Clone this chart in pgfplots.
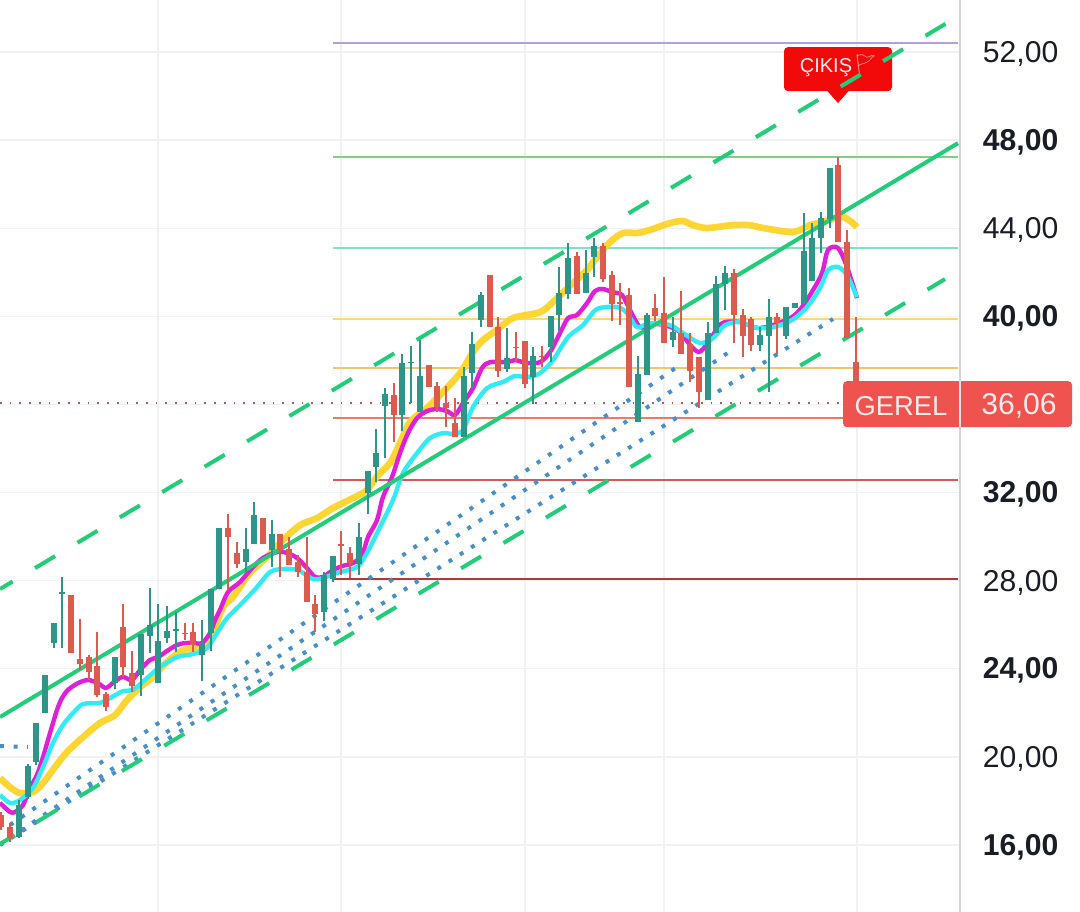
\documentclass[border=0pt]{standalone}
\usepackage{pgfplots}
\usepackage{pgfplotstable}
\usepackage{fontspec}
\pgfplotsset{compat=1.18}
\setmainfont{Liberation Sans}
\newfontfamily\emojifont{Noto Emoji}
\definecolor{cgreen}{HTML}{2E9688}
\definecolor{cred}{HTML}{DC5A4E}
\definecolor{trend}{HTML}{22CC78}
\definecolor{dotblue}{HTML}{4A90C8}
\definecolor{magline}{HTML}{E01FD8}
\definecolor{cyanline}{HTML}{33EBF2}
\definecolor{yelline}{HTML}{FDD633}
\definecolor{gridc}{HTML}{F1F2F4}
\definecolor{labelred}{HTML}{EF5350}
\definecolor{txt}{HTML}{1A1D26}
\definecolor{lvA}{RGB}{179,160,219}
\definecolor{lvB}{RGB}{130,205,135}
\definecolor{lvC}{RGB}{128,226,195}
\definecolor{lvD}{RGB}{255,217,102}
\definecolor{lvE}{RGB}{240,198,116}
\definecolor{lvF}{RGB}{229,127,95}
\definecolor{lvG}{RGB}{217,89,91}
\definecolor{lvH}{RGB}{176,58,58}
\definecolor{curr}{RGB}{176,90,90}
\definecolor{exitred}{RGB}{242,10,10}
\pgfplotstableread{
x hi lo top bot
19 18.04 16.32 17.82 16.36
28 19.68 18.09 19.59 18.18
36 21.54 19.63 21.54 19.77
45 23.72 21.99 23.72 21.99
54 26.08 24.94 26.08 25.17
62 28.17 24.94 27.48 27.39
115 24.53 23.08 24.53 23.35
141 25.58 22.76 25.58 23.72
150 27.67 24.72 25.99 25.49
158 26.94 23.35 25.26 23.35
167 26.85 25.17 25.71 25.40
176 26.58 24.76 25.80 25.71
202 26.21 23.44 25.17 24.62
211 27.62 24.81 27.62 25.62
219 30.39 27.62 30.39 27.62
246 30.39 28.39 29.44 28.85
254 31.57 29.66 30.98 29.66
272 30.75 28.62 30.12 29.39
324 28.39 26.17 28.26 26.58
333 29.12 27.94 29.12 28.07
359 30.62 28.26 29.98 28.76
368 32.98 31.03 32.98 31.98
376 34.88 32.48 33.79 33.16
385 36.74 33.57 36.47 35.93
402 38.29 34.79 37.88 35.52
411 38.65 36.06 37.92 37.88
420 38.92 35.65 37.29 35.65
464 37.70 34.52 37.29 34.52
472 39.29 36.74 38.74 37.42
481 41.10 39.51 40.97 39.83
507 39.47 37.47 38.11 37.61
533 38.61 36.02 38.20 37.24
551 40.01 37.92 40.01 38.61
559 42.24 39.33 41.06 40.06
568 43.33 40.78 42.65 41.01
586 43.01 41.06 41.96 41.06
594 43.55 41.78 43.19 42.69
638 38.20 35.20 37.38 35.20
647 40.15 37.33 40.06 37.33
673 39.97 38.61 39.29 38.92
708 39.74 36.20 39.24 36.20
716 41.83 39.24 41.46 39.24
725 42.28 40.28 41.96 41.46
760 39.51 38.42 39.15 38.70
769 40.78 36.56 39.97 39.10
786 40.42 38.97 40.42 39.10
795 40.60 40.37 40.60 40.37
804 44.69 40.56 42.96 40.56
812 44.23 41.60 43.55 41.60
821 44.73 42.87 44.46 43.55
830 46.73 44.01 46.73 44.41
}\greentable
\pgfplotstableread{
x hi lo top bot
1 17.50 16.68 17.36 16.82
10 17.00 16.14 16.82 16.32
71 27.35 24.72 27.35 24.72
80 26.26 23.94 24.44 24.22
89 24.62 23.49 24.53 23.85
97 25.67 22.72 24.13 22.81
106 22.95 22.08 22.85 22.26
123 26.94 23.63 25.90 24.08
132 24.81 22.95 23.81 23.22
185 26.08 25.31 25.62 25.57
193 26.08 24.76 25.67 25.08
228 31.03 27.58 30.39 29.98
237 29.75 28.57 29.26 28.76
263 30.84 29.66 30.84 29.66
280 30.12 28.17 30.12 29.39
289 29.98 28.71 29.44 28.71
298 29.16 28.17 28.85 28.39
307 29.98 27.03 28.39 27.03
315 27.35 25.67 26.94 26.49
341 30.25 28.26 29.66 29.57
350 29.53 28.12 29.26 28.80
394 36.97 34.29 36.43 35.52
429 37.79 36.79 37.79 36.79
437 37.02 35.65 36.83 35.88
446 36.83 34.97 36.06 35.84
455 36.29 34.52 35.15 34.52
490 41.87 39.51 41.87 39.51
498 39.97 37.24 39.51 37.51
516 39.29 37.92 38.61 38.56
525 38.88 36.74 38.88 36.93
542 38.65 37.70 38.20 38.15
577 42.92 41.01 42.74 41.01
603 43.33 41.55 43.19 41.69
612 42.05 39.78 41.87 40.56
620 41.51 39.60 40.65 40.56
629 41.28 36.79 40.97 36.79
655 41.01 39.78 40.37 40.01
664 41.78 38.79 40.15 38.79
681 41.15 38.29 39.24 38.29
690 39.24 37.02 38.74 37.51
699 38.15 35.84 38.15 36.56
734 42.14 38.79 41.96 40.06
743 40.33 38.15 40.06 39.10
751 39.97 38.42 39.88 38.70
777 40.15 38.29 39.97 39.69
838 47.23 43.37 46.87 43.37
847 43.92 39.01 43.37 39.01
856 39.97 36.06 37.92 36.06
}\redtable
\begin{document}
\begin{tikzpicture}[x=1pt,y=1pt]
\path[use as bounding box] (0,0) rectangle (810pt,684pt);
\begin{axis}[
  at={(0pt,0pt)}, anchor=south west,
  scale only axis, width=720pt, height=684pt,
  xmin=0, xmax=960, ymin=12.96, ymax=54.36,
  clip=false,
  axis line style={draw=none},
  major tick length=0pt,
  grid=major,
  grid style={gridc, line width=0.9pt},
  xtick={158,341,525,664,857}, xticklabels={},
  ytick={16,20,24,28,32,36,40,44,48,52},
  yticklabels={{\textbf{16,00}},{20,00},{\textbf{24,00}},{28,00},{\textbf{32,00}},{},{\textbf{40,00}},{44,00},{\textbf{48,00}},{52,00}},
  yticklabel pos=right,
  yticklabel style={anchor=west, inner sep=0pt, xshift=17pt, yshift=-1.5pt, font=\fontsize{22.6}{24}\selectfont, text=txt},
]
% right border
\addplot[color=black!17, line width=1.4pt, forget plot] coordinates {(960,12.96) (960,54.36)};
% level lines
\addplot[color=lvA, line width=1.2pt] coordinates {(333,52.40) (958,52.40)};
\addplot[color=lvB, line width=1.2pt] coordinates {(333,47.23) (958,47.23)};
\addplot[color=lvC, line width=1.2pt] coordinates {(333,43.10) (958,43.10)};
\addplot[color=lvD, line width=1.2pt] coordinates {(333,39.88) (958,39.88)};
\addplot[color=lvE, line width=1.2pt] coordinates {(333,37.65) (958,37.65)};
\addplot[color=lvF, line width=1.2pt] coordinates {(333,35.38) (958,35.38)};
\addplot[color=lvG, line width=1.2pt] coordinates {(333,32.57) (958,32.57)};
\addplot[color=lvH, line width=1.2pt] coordinates {(333,28.07) (958,28.07)};
% current price
\addplot[color=curr, line width=1.3pt, dash pattern=on 1.3pt off 6pt] coordinates {(0,36.06) (845,36.06)};
% exit flag box
\addplot[fill=exitred, draw=none, rounded corners=3pt] coordinates {(784,52.22) (892,52.22) (892,50.22) (784,50.22)} -- cycle;
\addplot[fill=exitred, draw=none] coordinates {(826,50.30) (850,50.30) (838,49.68)} -- cycle;
% dotted channels
\addplot[color=dotblue, line width=3pt, dash pattern=on 3pt off 7.2pt] coordinates {(10,16.91) (677,37.70)};
\addplot[color=dotblue, line width=3pt, dash pattern=on 3pt off 7.1pt] coordinates {(10,16.32) (732,38.47)};
\addplot[color=dotblue, line width=3pt, dash pattern=on 3pt off 6.95pt] coordinates {(0,16.00) (833,39.88)};
\addplot[color=dotblue, line width=3pt, dash pattern=on 3pt off 7.2pt] coordinates {(0,20.49) (28,20.45)};
% moving averages
\addplot[color=yelline, line width=5pt, smooth, tension=0.5, line join=round] coordinates {
(0,19.04)(10,18.63)(20,18.36)(33,18.41)(43,18.81)(55,19.54)(67,20.22)(83,20.90)(100,21.54)(115,21.90)(127,22.58)(140,23.17)(153,23.63)(167,24.31)(183,24.85)(200,24.94)(213,25.67)(223,26.80)(233,27.26)(250,28.35)(267,29.07)(283,29.84)(300,30.52)(317,30.84)(333,31.30)(353,31.75)(367,32.11)(378,32.79)(390,33.34)(400,34.25)(410,35.20)(427,35.84)(440,36.43)(460,37.42)(473,38.38)(483,38.92)(497,39.38)(513,39.92)(540,40.19)(553,40.65)(573,41.51)(587,42.10)(597,42.69)(610,43.37)(623,43.78)(637,43.78)(650,43.92)(667,44.19)(682,44.33)(693,44.14)(707,44.01)(733,44.14)(750,44.14)(763,44.01)(793,43.83)(810,44.14)(823,44.28)(843,44.51)(857,44.05)};
% channel lines
\addplot[color=trend, line width=3pt, dash pattern=on 17.5pt off 19.55pt, dash phase=6.45pt] coordinates {(0,27.62) (950,53.40)};
\addplot[color=trend, line width=3pt, dash pattern=on 17.5pt off 19.55pt, dash phase=4.7pt] coordinates {(0,16.05) (945,41.69)};
\addplot[color=magline, line width=3.3pt, smooth, tension=0.5, line join=round] coordinates {
(0,17.91)(10,17.50)(15,17.50)(23,17.82)(30,18.59)(37,19.18)(43,19.99)(50,21.08)(57,22.13)(62,22.67)(68,23.04)(78,23.35)(88,23.49)(98,23.35)(106,23.13)(115,23.44)(123,23.63)(132,23.49)(140,23.94)(150,24.40)(158,24.53)(167,24.81)(177,25.08)(185,25.17)(193,25.17)(202,25.17)(210,25.62)(215,26.21)(220,26.67)(228,27.48)(240,27.94)(252,28.57)(263,29.03)(277,29.30)(287,29.26)(297,29.03)(307,28.57)(315,28.17)(323,28.17)(333,28.48)(342,28.66)(353,28.80)(362,29.16)(368,29.98)(377,30.75)(383,31.80)(392,32.70)(400,33.79)(408,34.70)(417,35.38)(427,35.70)(437,35.79)(447,35.70)(455,35.52)(463,36.06)(473,36.74)(482,37.65)(490,37.92)(507,37.92)(515,38.01)(527,37.88)(540,37.92)(550,38.38)(560,39.24)(568,39.92)(577,40.06)(587,40.60)(595,41.15)(603,41.24)(612,41.10)(622,40.97)(630,40.28)(640,39.51)(650,39.65)(665,39.60)(680,39.29)(690,38.70)(699,38.38)(708,38.79)(718,39.51)(725,39.74)(740,39.74)(757,39.47)(773,39.60)(792,39.97)(802,40.42)(813,41.19)(822,41.96)(828,43.01)(838,43.10)(847,42.24)(857,40.83)};
\addplot[color=cyanline, line width=3.3pt, smooth, tension=0.5, line join=round] coordinates {
(0,18.27)(10,17.91)(20,18.04)(33,18.59)(43,19.54)(53,20.63)(63,21.45)(73,21.99)(83,22.40)(100,22.45)(110,22.67)(123,22.99)(133,23.04)(147,23.58)(160,24.08)(177,24.53)(193,24.67)(207,24.94)(217,25.62)(227,26.30)(240,26.89)(257,27.71)(270,28.39)(283,28.53)(298,28.48)(313,28.07)(323,28.12)(337,28.35)(357,28.62)(367,29.26)(380,30.43)(393,31.66)(403,32.89)(417,33.79)(430,34.47)(443,34.70)(453,34.66)(463,34.84)(473,35.88)(487,36.74)(503,37.02)(515,37.29)(527,37.24)(540,37.42)(553,38.01)(568,39.06)(583,39.60)(597,40.33)(617,40.42)(627,40.15)(637,39.51)(650,39.69)(670,39.60)(683,39.24)(700,38.79)(713,39.01)(725,39.60)(740,39.74)(757,39.47)(773,39.51)(792,39.83)(807,40.42)(820,41.28)(828,42.10)(838,42.24)(847,41.87)(857,40.87)};
\addplot[color=trend, line width=3pt] coordinates {(0,21.81) (958,47.86)};
% candles: wicks
\addplot[draw=none, mark=none, error bars/.cd, y dir=plus, y explicit, error mark=none, error bar style={draw=cgreen, solid, line width=1.6pt}]
  table[x=x, y=lo, y error expr=\thisrow{hi}-\thisrow{lo}] {\greentable};
\addplot[draw=none, mark=none, error bars/.cd, y dir=plus, y explicit, error mark=none, error bar style={draw=cred, solid, line width=1.6pt}]
  table[x=x, y=lo, y error expr=\thisrow{hi}-\thisrow{lo}] {\redtable};
% candles: bodies
\addplot[draw=none, mark=none, error bars/.cd, y dir=plus, y explicit, error mark=none, error bar style={draw=cgreen, solid, line width=4.6pt}]
  table[x=x, y=bot, y error expr=\thisrow{top}-\thisrow{bot}] {\greentable};
\addplot[draw=none, mark=none, error bars/.cd, y dir=plus, y explicit, error mark=none, error bar style={draw=cred, solid, line width=4.6pt}]
  table[x=x, y=bot, y error expr=\thisrow{top}-\thisrow{bot}] {\redtable};
% labels
\node[anchor=center, text=white!92!red, font=\fontsize{15}{17}\selectfont, inner sep=0pt] at (axis cs:826,51.27) {ÇIKIŞ};
\node[anchor=center, text=red!35!white, font=\fontsize{14}{16}\emojifont, inner sep=0pt] at (axis cs:866,51.45) {🚩};
\fill[labelred, rounded corners=3pt] (axis cs:843,37.06) rectangle (axis cs:1072,34.97);
\draw[white!85!labelred, line width=1.1pt] (axis cs:960,37.06) -- (axis cs:960,34.97);
\node[anchor=center, text=white!92!red, font=\fontsize{20.5}{22}\selectfont, inner sep=0pt] at (axis cs:901,35.92) {GEREL};
\node[anchor=center, text=white!92!red, font=\fontsize{22.6}{24}\selectfont, inner sep=0pt] at (axis cs:1019,35.92) {36,06};
\end{axis}
\end{tikzpicture}
\end{document}
